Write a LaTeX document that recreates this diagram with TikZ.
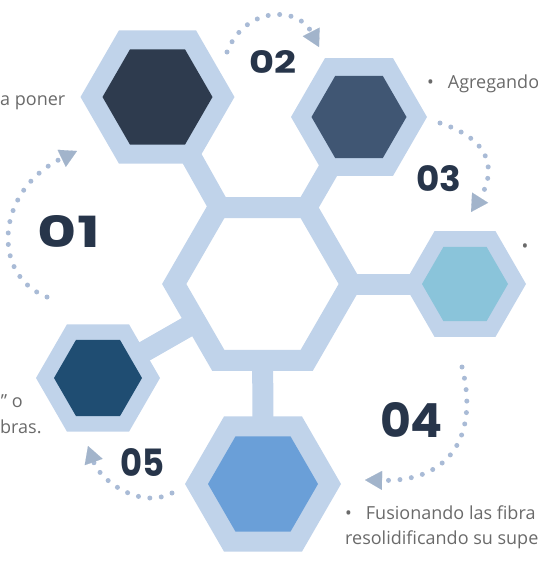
\documentclass[tikz,border=0pt]{standalone}
\usepackage{fontspec}
\setmainfont{Open Sans}
\newfontfamily\numfont{Poppins}
\usetikzlibrary{shapes.geometric,arrows.meta,backgrounds}

\definecolor{hexpale}{HTML}{C0D3EA}
\definecolor{hexone}{HTML}{2E3B4E}
\definecolor{hextwo}{HTML}{405673}
\definecolor{hexthree}{HTML}{8AC4DA}
\definecolor{hexfour}{HTML}{6A9FD8}
\definecolor{hexfive}{HTML}{1F4D72}
\definecolor{numink}{HTML}{27354A}
\definecolor{dotblue}{HTML}{A9BBD6}
\definecolor{tipblue}{HTML}{A2B4CB}
\definecolor{textgray}{HTML}{6A6A6A}

\begin{document}
\begin{tikzpicture}[x=1pt, y=-1pt,
  hexcell/.style={regular polygon, regular polygon sides=6, inner sep=0pt, outer sep=0pt},
  shell/.style={hexcell, fill=hexpale},
  link/.style={draw=hexpale, line width=21pt},
  trail/.style={draw=dotblue, line width=5pt, line cap=round, dash pattern=on 0pt off 11.5pt,
    -{Triangle[length=17pt, width=19pt, line width=0.1pt, color=tipblue]}},
  note/.style={font=\fontsize{18}{25}\selectfont, text=textgray, inner sep=0pt},
  stepno/.style={font=\numfont\bfseries\fontsize{40}{40}\selectfont, text=numink, inner sep=0pt}]
  \useasboundingbox (0,0) rectangle (538,563);
  \clip (0,0) rectangle (538,563);

  % Central ring
  \node[hexcell, draw=hexpale, fill=white, line width=21pt, minimum size=176.6pt] (hub) at (262.5,284) {};

  % Outer cells: light shell with a coloured core
  \node[shell, minimum size=154pt] (one) at (157.5,97) {};
  \node[hexcell, fill=hexone, minimum size=110pt] (onecore) at (one) {};
  \node[shell, minimum size=136pt] (two) at (359,117) {};
  \node[hexcell, fill=hextwo, minimum size=95pt] (twocore) at (two) {};
  \node[shell, minimum size=122pt] (three) at (465,284) {};
  \node[hexcell, fill=hexthree, minimum size=86pt] (threecore) at (three) {};
  \node[shell, minimum size=156pt] (four) at (263,484) {};
  \node[hexcell, fill=hexfour, minimum size=110pt] (fourcore) at (four) {};
  \node[shell, minimum size=124pt] (five) at (98,378) {};
  \node[hexcell, fill=hexfive, minimum size=88pt] (fivecore) at (five) {};

  % Spokes
  \begin{pgfonlayer}{background}
    \foreach \cell in {one,two,three,four,five}
      \draw[link] (hub.center) -- (\cell.center);
  \end{pgfonlayer}

  % Step numbers
  \node[stepno] (n1) at (69,231) {\resizebox{62pt}{32pt}{01}};
  \node[stepno] (n2) at (273,61.5) {\resizebox{47pt}{23pt}{02}};
  \node[stepno] (n3) at (438.5,178.5) {\resizebox{45pt}{26pt}{03}};
  \node[stepno] (n4) at (411.5,419.5) {\resizebox{63pt}{35pt}{04}};
  \node[stepno] (n5) at (142,462.5) {\resizebox{44pt}{28pt}{05}};

  % Dotted arrows between the steps
  \coordinate (s1) at (47,297);   \coordinate (e1) at (77,151);
  \coordinate (s2) at (227,52);   \coordinate (e2) at (319,47);
  \coordinate (s3) at (440,123);  \coordinate (e3) at (471,212);
  \coordinate (s4) at (462,367);  \coordinate (e4) at (365,480);
  \coordinate (s5) at (172,493);  \coordinate (e5) at (88,446);
  \draw[trail] (s1) .. controls (-10,275) and (-4,190) .. (e1);
  \draw[trail] (s2) .. controls (245,6) and (298,6) .. (e2);
  \draw[trail] (s3) .. controls (510,146) and (485,190) .. (e3);
  \draw[trail] (s4) .. controls (478,430) and (455,482) .. (e4);
  \draw[trail] (s5) .. controls (140,510) and (100,480) .. (e5);

  % Side notes
  \node[note, anchor=base west] (t1) at (0,105) {a poner};
  \node[note, anchor=base west] (t2) at (427,88) {•\hspace{14pt}Agregando};
  \node[note] (t3) at (525,248) {•};
  \node[note, anchor=base east] (t4) at (23,407) {” o};
  \node[note, anchor=base west] (t5) at (0,433) {bras.};
  \node[note, anchor=base west] (t6) at (345,519) {•\hspace{14pt}Fusionando las fibra};
  \node[note, anchor=base west] (t7) at (345,544) {resolidificando su supe};
\end{tikzpicture}
\end{document}
